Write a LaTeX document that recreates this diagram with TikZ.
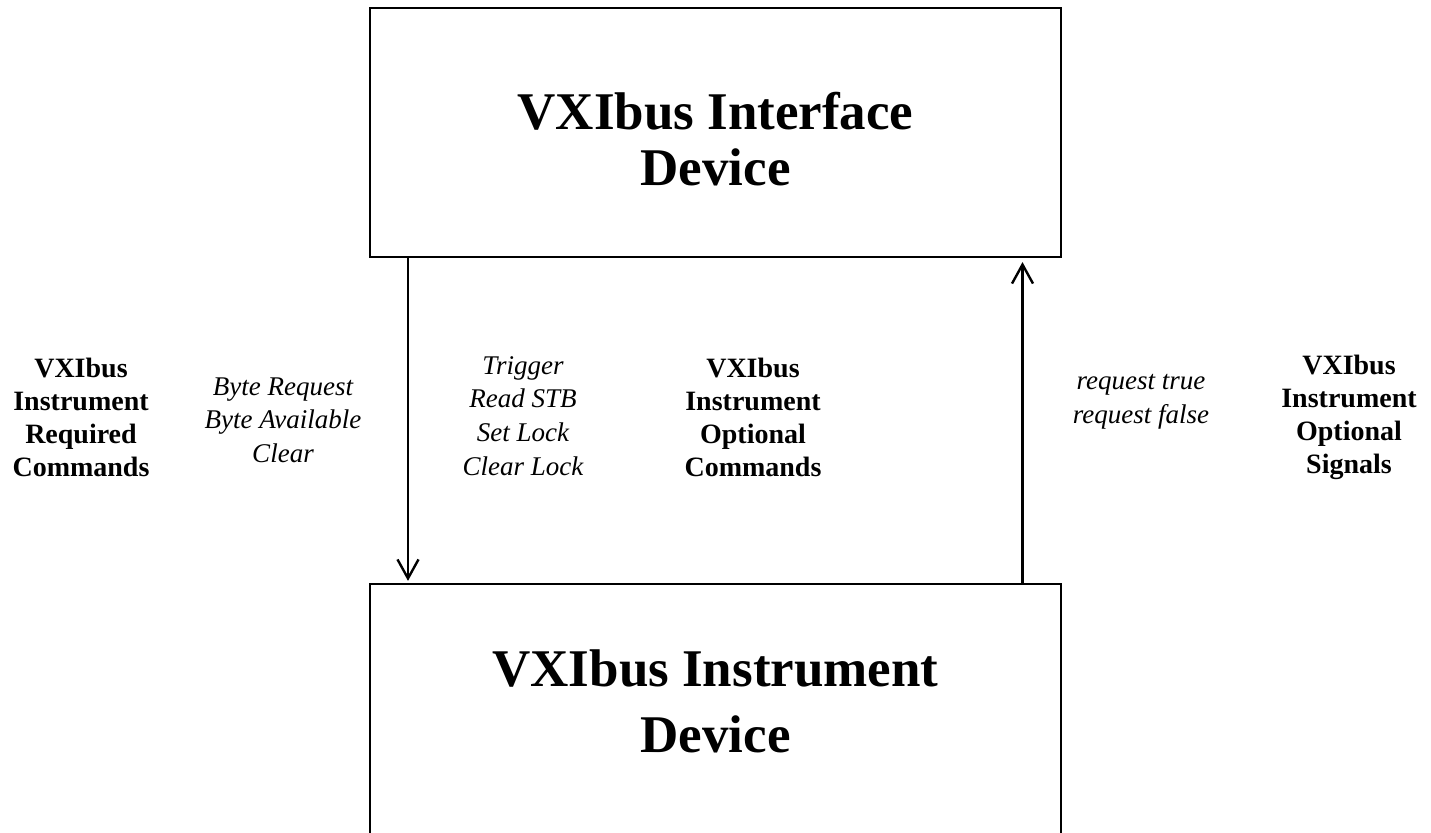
\documentclass[tikz,border=0pt]{standalone}
\usepackage{fontspec}
\setmainfont{Liberation Serif}
\usetikzlibrary{arrows.meta}
\begin{document}
\begin{tikzpicture}[x=0.5pt,y=-0.5pt,
  box/.style={draw=black, line width=1.1pt, rectangle, inner sep=0pt, minimum width=345.5pt},
  title/.style={font=\fontsize{26.5pt}{28pt}\selectfont\bfseries, align=center, inner sep=0pt},
  title2/.style={font=\fontsize{26.5pt}{33pt}\selectfont\bfseries, align=center, inner sep=0pt},
  blabel/.style={font=\fontsize{14pt}{16.5pt}\selectfont\bfseries, align=center, inner sep=0pt},
  ilabel/.style={font=\fontsize{13.5pt}{16.8pt}\selectfont\itshape, align=center, inner sep=0pt},
  arr/.style={line width=1.2pt, -{Straight Barb[length=9.5pt,width=10.5pt,line width=1.2pt]}}
]
\useasboundingbox (0,0) rectangle (1431,833);
\clip (0,0) rectangle (1431,833);
\fill[white] (0,0) rectangle (1431,833);

\node[box, minimum height=124.5pt] (top) at (715.5,132.5) {};
\node[box, minimum height=150pt] (bot) at (715.5,734) {};

\node[title] (toptitle) at (715.5,139) {VXIbus Interface\\Device};
\node[title2] (bottitle) at (715.5,701) {VXIbus Instrument\\Device};

\coordinate (dn) at (408,0);
\coordinate (up) at (1022.5,0);
\draw[arr, shorten >=1pt] (top.south -| dn) -- (bot.north -| dn);
\draw[arr, shorten >=2pt] (bot.north -| up) -- (top.south -| up);

\node[blabel] (req) at (81,417) {VXIbus\\Instrument\\Required\\Commands};
\node[ilabel] (reqc) at (283,420) {Byte Request\\Byte Available\\Clear};
\node[ilabel] (optc) at (523,416) {Trigger\\Read STB\\Set Lock\\Clear Lock};
\node[blabel] (opt) at (753,417) {VXIbus\\Instrument\\Optional\\Commands};
\node[ilabel] (sigc) at (1141,402) {request true\\request false};
\node[blabel] (sig) at (1349,417) {VXIbus\\Instrument\\Optional\\Signals};
\end{tikzpicture}
\end{document}
